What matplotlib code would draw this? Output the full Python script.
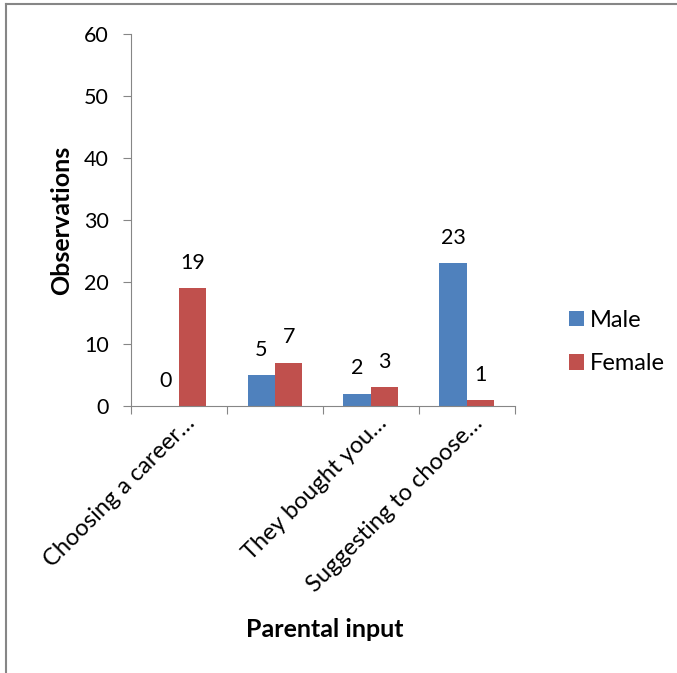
import numpy as np
import matplotlib.pyplot as plt
from matplotlib.lines import Line2D

plt.rcParams['font.family'] = ['Lato', 'DejaVu Sans']

categories = ['Choosing a career\u2026', '', 'They bought you\u2026', 'Suggesting to choose\u2026']
male = [0, 5, 2, 23]
female = [19, 7, 3, 1]
yticks = [0, 10, 20, 30, 40, 50, 60]

cMale = '#4f81bd'
cFemale = '#c0504d'
gray = '#868686'
fs = 15.5

fig = plt.figure(figsize=(6.77, 6.73), dpi=100)
ax = fig.add_axes([0.1935, 0.3967, 0.567, 0.5528])

x = np.arange(len(categories))
w = 1/3.5
b1 = ax.bar(x - w/2, male, w, color=cMale, label='Male')
b2 = ax.bar(x + w/2, female, w, color=cFemale, label='Female')
for bars in (b1, b2):
    ax.bar_label(bars, padding=11, fontsize=fs)

ax.set_xlim(-0.5, len(categories) - 0.5)
ax.set_ylim(0, 60)
ax.set_yticks(yticks)
ax.tick_params(axis='y', labelsize=fs, length=6, color=gray, direction='out', pad=10)
ax.set_xticks(np.arange(len(categories) + 1) - 0.5)
ax.set_xticklabels([])
ax.tick_params(axis='x', length=6, color=gray, direction='out')
for s in ['top', 'right']:
    ax.spines[s].set_visible(False)
for s in ['left', 'bottom']:
    ax.spines[s].set_color(gray)

# rotated category labels, end of text near the category centre
for i, lab in enumerate(categories):
    ax.annotate(lab, xy=(i, 0), xycoords=('data', 'axes fraction'),
                xytext=(5, -6), textcoords='offset pixels',
                rotation=45, ha='right', va='top', rotation_mode='anchor',
                fontsize=17)

ax.set_ylabel('Observations', fontsize=18, fontweight='bold', labelpad=8)
fig.text(0.479, 0.064, 'Parental input', ha='center', va='center',
         fontsize=18, fontweight='bold')

ax.legend(loc='center left', bbox_to_anchor=(1.11, 0.172), frameon=False,
          borderpad=0, fontsize=17, handlelength=0.64, handleheight=0.64,
          handletextpad=0.25, labelspacing=0.95)

fig.add_artist(Line2D([0.009, 0.009], [0, 0.994], color=gray, lw=1.5))
fig.add_artist(Line2D([0.009, 1], [0.994, 0.994], color=gray, lw=1.5))

fig.savefig('out.png', dpi=100)
